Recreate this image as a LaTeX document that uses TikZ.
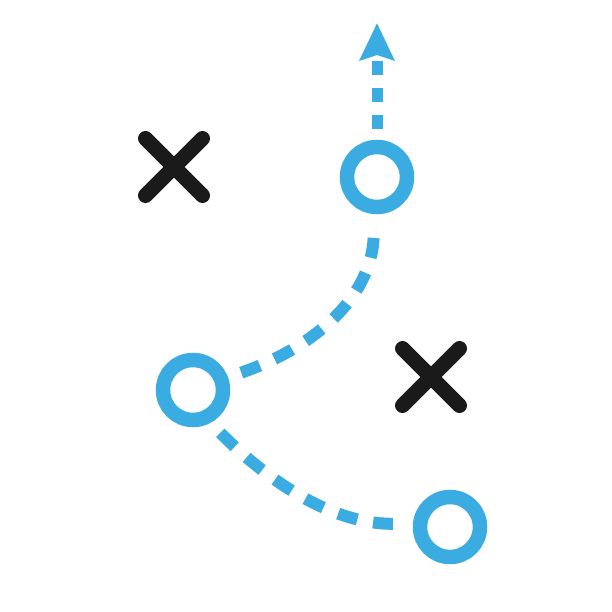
\documentclass[tikz,border=0pt]{standalone}
\usetikzlibrary{arrows.meta,calc}
\definecolor{routeblue}{RGB}{59,172,226}
\definecolor{xblack}{RGB}{26,26,26}
\begin{document}
\begin{tikzpicture}[x=1pt,y=-1pt,
  spot/.style={circle,draw=routeblue,line width=14.5pt,minimum size=60pt,inner sep=0pt},
  route/.style={draw=routeblue,line width=12pt,dash pattern=on 20pt off 16pt},
  shortroute/.style={draw=routeblue,line width=11pt,dash pattern=on 14pt off 13pt},
  cross/.style={draw=xblack,line width=15pt,line cap=round}]
\useasboundingbox[fill=white] (0,0) rectangle (612,612);
% player spots
\node[spot] (top) at (377,177) {};
\node[spot] (mid) at (193,390) {};
\node[spot] (bot) at (450,527) {};
% X marks
\coordinate (xa) at (174,167);
\coordinate (xb) at (431,377);
\draw[cross] ($(xa)+(-28.5,-28.5)$) -- ($(xa)+(28.5,28.5)$) ($(xa)+(-28.5,28.5)$) -- ($(xa)+(28.5,-28.5)$);
\draw[cross] ($(xb)+(-28.5,-28.5)$) -- ($(xb)+(28.5,28.5)$) ($(xb)+(-28.5,28.5)$) -- ($(xb)+(28.5,-28.5)$);
% routes
\coordinate (tip) at (377,23);
\draw[shortroute,shorten <=11pt,-{Stealth[length=37pt,width=34pt,inset=5pt]},routeblue] (top.north) -- (tip);
\draw[route,shorten <=14pt,shorten >=18pt] (mid.20) .. controls (318,346) and (374,294) .. (top.-95);
\draw[route,shorten <=14pt,shorten >=20pt] (mid.-62) .. controls (270,483) and (333,524) .. (bot.175);
\end{tikzpicture}
\end{document}
